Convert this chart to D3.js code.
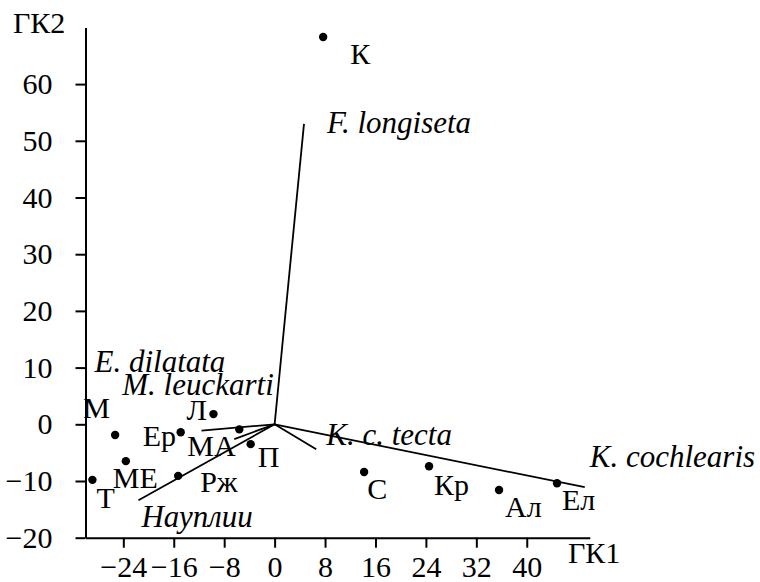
<!DOCTYPE html>
<html>
<head>
<meta charset="utf-8">
<script src="https://cdn.jsdelivr.net/npm/d3@7"></script>
<style>
  body { margin: 0; background: #fff; }
  svg text { font-family: 'Liberation Serif', Tinos, 'Times New Roman', Times, 'DejaVu Serif', serif !important; fill: #000; }
</style>
</head>
<body>
<svg id="chart"></svg>
<script>
// site scores on the first two components
const siteNames = ["К", "Л", "М", "Ер", "МА", "П", "МЕ", "Т", "Рж", "С", "Кр", "Ал", "Ел"];
const gk1 = [7.7, -9.7, -25.3, -14.9, -5.6, -3.8, -23.6, -28.9, -15.3, 14.2, 24.5, 35.6, 44.8];
const gk2 = [68.3, 1.8, -1.9, -1.4, -0.9, -3.5, -6.5, -9.8, -9.1, -8.4, -7.4, -11.6, -10.4];

// species vectors
const speciesNames = ["F. longiseta", "K. cochlearis", "K. c. tecta", "Науплии", "E. dilatata", "M. leuckarti"];
const loadX = [4.66, 49.2, 6.6, -21.6, -11.6, -6.4];
const loadY = [53.0, -11.1, -4.4, -13.4, -1.1, -2.6];

// tick labels
const xTicks = [-24, -16, -8, 0, 8, 16, 24, 32, 40];
const yTicks = [-20, -10, 0, 10, 20, 30, 40, 50, 60];

// where each text sits relative to its mark (pixels)
const siteLabelOffset = {
  "К": [27, 27], "Л": [-27, 6], "М": [-32, -17], "Ер": [-38, 14], "МА": [-52, 27],
  "П": [7, 23], "МЕ": [-13, 27], "Т": [4, 28], "Рж": [22, 16], "С": [3, 27],
  "Кр": [5, 29], "Ал": [6, 27], "Ел": [5, 27]
};
const speciesLabelOffset = {
  "F. longiseta": [23, 9], "K. cochlearis": [5, -20], "K. c. tecta": [10, -4],
  "Науплии": [3, 27], "E. dilatata": [-107, -59], "M. leuckarti": [-112, -44]
};

const W = 760, H = 582;
const svg = d3.select("#chart").attr("width", W).attr("height", H);

const x = d3.scaleLinear().domain([-30, 50]).range([85.5, 589.8]);
const y = d3.scaleLinear().domain([-20, 70]).range([537.7, 27.4]);

//x axis
let xAxis = svg.append("g")
  .attr("transform", `translate(0,${y(-20)})`)
  .call(d3.axisBottom(x).tickValues(xTicks).tickSize(10).tickSizeOuter(0).tickFormat(d3.format("d")));
xAxis.selectAll("text")
  .attr("y", 39).attr("dy", 0)
  .attr("font-size", "30px");

//y axis
let yAxis = svg.append("g")
  .attr("transform", `translate(${x(-30)},0)`)
  .call(d3.axisLeft(y).tickValues(yTicks).tickSize(10).tickSizeOuter(0).tickFormat(d3.format("d")));
yAxis.selectAll("text")
  .attr("x", -33)
  .attr("font-size", "30px");

svg.selectAll("g").attr("font-family", null);
svg.selectAll(".domain, .tick line").attr("stroke", "#000").attr("stroke-width", 2);

// axis titles
svg.append("text").attr("x", 13).attr("y", 33).attr("font-size", "30px").text("ГК2");
svg.append("text").attr("x", 568).attr("y", 563).attr("font-size", "30px").text("ГК1");

//species vectors
const species = speciesNames.map((n, i) => ({ name: n, x: loadX[i], y: loadY[i] }));
svg.selectAll("line.vec")
  .data(species)
  .enter()
  .append("line")
    .attr("class", "vec")
    .attr("x1", x(0)).attr("y1", y(0))
    .attr("x2", d => x(d.x)).attr("y2", d => y(d.y))
    .attr("stroke", "#000")
    .attr("stroke-width", 1.8);

svg.selectAll("text.sp")
  .data(species)
  .enter()
  .append("text")
    .attr("class", "sp")
    .attr("x", d => x(d.x) + speciesLabelOffset[d.name][0])
    .attr("y", d => y(d.y) + speciesLabelOffset[d.name][1])
    .attr("font-size", "31px")
    .attr("font-style", "italic")
    .text(d => d.name);

//sites
const sites = siteNames.map((n, i) => ({ name: n, x: gk1[i], y: gk2[i] }));
svg.selectAll("circle")
  .data(sites)
  .enter()
  .append("circle")
    .attr("cx", d => x(d.x))
    .attr("cy", d => y(d.y))
    .attr("r", 4.2)
    .attr("fill", "#000");

svg.selectAll("text.site")
  .data(sites)
  .enter()
  .append("text")
    .attr("class", "site")
    .attr("x", d => x(d.x) + siteLabelOffset[d.name][0])
    .attr("y", d => y(d.y) + siteLabelOffset[d.name][1])
    .attr("font-size", "30px")
    .text(d => d.name);
</script>
</body>
</html>
